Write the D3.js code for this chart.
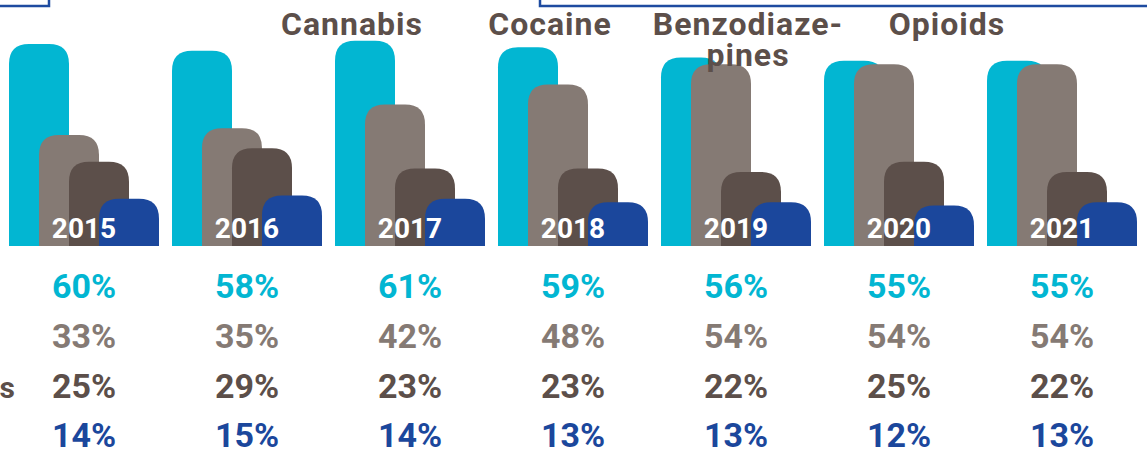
<!DOCTYPE html>
<html>
<head>
<meta charset="utf-8">
<script src="https://cdn.jsdelivr.net/npm/d3@7"></script>
<style>
  body { margin: 0; background: #fff; }
  svg text { font-family: Roboto, "Noto Sans", sans-serif; font-weight: 700; }
</style>
</head>
<body>
<div id="draw_zone"></div>
<script>
// values
var years = [2015, 2016, 2017, 2018, 2019, 2020, 2021];
var cannabis = [60, 58, 61, 59, 56, 55, 55];
var cocaine = [33, 35, 42, 48, 54, 54, 54];
var benzos = [25, 29, 23, 23, 22, 25, 22];
var opioids = [14, 15, 14, 13, 13, 12, 13];
var seriesNames = ["Cannabis", "Cocaine", "Benzodiazepines", "Opioids"];
var colors = ["#02b6d2", "#857a74", "#5c4f4a", "#1b479c"];

var W = 1147, H = 458;
var holder = d3.select("#draw_zone").append("svg").attr("width", W).attr("height", H);

var x = d3.scaleBand().domain(years).range([9, 9 + 163 * years.length]);
var y = d3.scaleLinear().domain([0, 60]).range([246, 44]);
var barW = 60, step = 30, r = 20;

// frame lines from the surrounding layout
holder.append("path").attr("d", "M0,6H49V0").style("fill", "none").style("stroke", "#1e4ba0").style("stroke-width", 2.5);
holder.append("path").attr("d", "M540,0V6H1147").style("fill", "none").style("stroke", "#1e4ba0").style("stroke-width", 2.5);

function roundTop(x0, y0, w, h) {
  var rr = Math.min(r, h);
  return "M" + x0 + "," + (y0 + h) +
    "V" + (y0 + rr) +
    "Q" + x0 + "," + y0 + " " + (x0 + rr) + "," + y0 +
    "H" + (x0 + w - rr) +
    "Q" + (x0 + w) + "," + y0 + " " + (x0 + w) + "," + (y0 + rr) +
    "V" + (y0 + h) + "Z";
}

var all = [cannabis, cocaine, benzos, opioids];

all.forEach(function(vals, j) {
  holder.append("g").selectAll("path").data(years).enter().append("path")
    .attr("d", function(d, i) {
      return roundTop(x(d) + step * j, y(vals[i]), barW, y(0) - y(vals[i]));
    })
    .style("fill", colors[j]);
});

// year labels on the bars
holder.append("g").selectAll("text").data(years).enter().append("text")
  .attr("x", function(d) { return x(d) + 75; })
  .attr("y", 238)
  .attr("text-anchor", "middle")
  .style("font-size", "28px")
  .style("fill", "#fff")
  .text(function(d) { return d; });

// percentage rows
var rowY = [298, 348, 398, 447];
all.forEach(function(vals, j) {
  holder.append("g").selectAll("text").data(years).enter().append("text")
    .attr("x", function(d) { return x(d) + 75; })
    .attr("y", rowY[j])
    .attr("text-anchor", "middle")
    .style("font-size", "34px")
    .style("fill", colors[j])
    .text(function(d, i) { return vals[i] + "%"; });
});

// row label cut off at the left edge
holder.append("text").attr("x", 15).attr("y", 398).attr("text-anchor", "end")
  .style("font-size", "30px").style("fill", "#5c4f4a").text("Benzodiazepines");

// headings
var heads = [
  { t: ["Cannabis"], cx: 352 },
  { t: ["Cocaine"], cx: 550 },
  { t: ["Benzodiaze-", "pines"], cx: 748 },
  { t: ["Opioids"], cx: 947 }
];
heads.forEach(function(h) {
  h.t.forEach(function(line, k) {
    holder.append("text").attr("x", h.cx).attr("y", 35 + k * 31)
      .attr("text-anchor", "middle")
      .style("font-size", "32px")
      .style("letter-spacing", "1px")
      .style("fill", "#5c4f4a")
      .text(line);
  });
});
</script>
</body>
</html>
